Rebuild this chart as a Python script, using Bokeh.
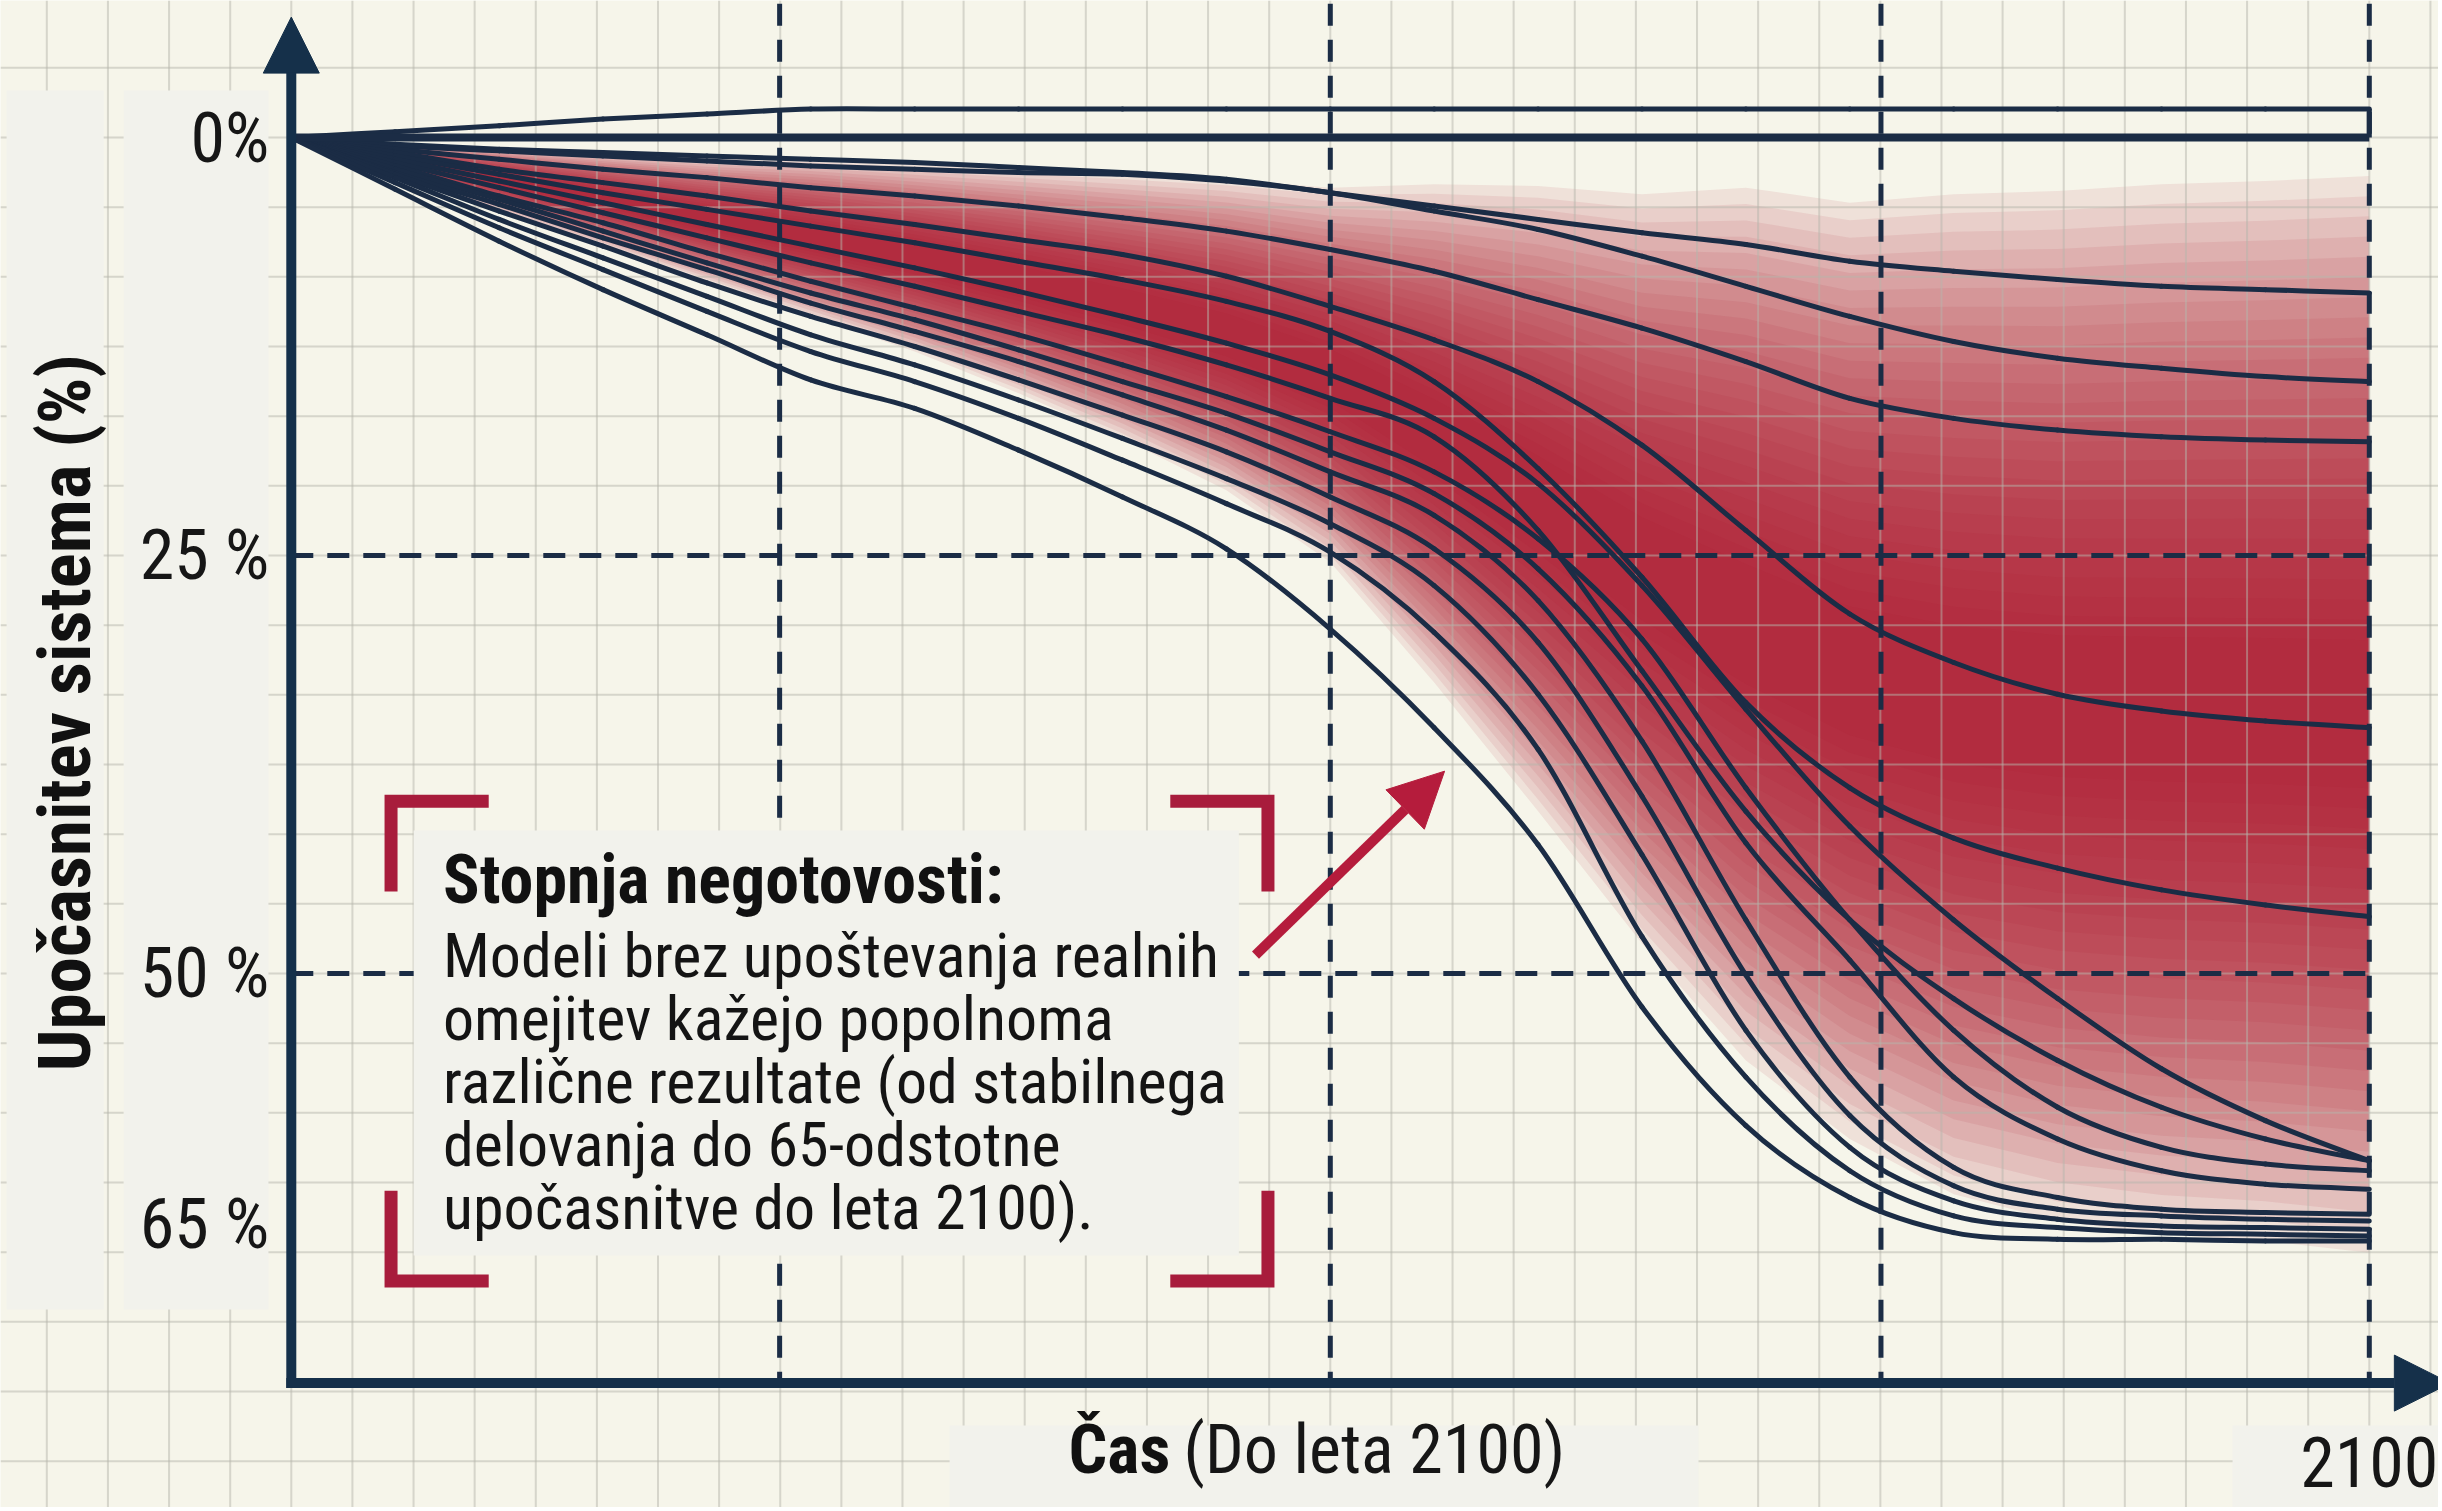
import math
from bokeh.plotting import figure
from bokeh.models import Range1d, LinearAxis, FixedTicker, Label, Arrow, NormalHead
from bokeh.embed import file_html
from bokeh.resources import INLINE

# ---------------- data ----------------
years = [2000, 2005, 2010, 2015, 2020, 2025, 2030, 2035, 2040, 2045, 2050,
         2055, 2060, 2065, 2070, 2075, 2080, 2085, 2090, 2095, 2100]

# slowdown of the system in % (0 = no slowdown), one list per model run
s_upper = [0, -0.35, -0.7, -1.1, -1.4, -1.7, -1.7, -1.7, -1.7, -1.7, -1.7,
           -1.7, -1.7, -1.7, -1.7, -1.7, -1.7, -1.7, -1.7, -1.7, -1.7]
s_zero = [0, 0, 0, 0, 0, 0, 0, 0, 0, 0, 0, 0, 0, 0, 0, 0, 0, 0, 0, 0, 0]
s_a = [0, 0.4, 0.7, 0.9, 1.1, 1.3, 1.5, 1.8, 2.1, 2.5, 3.3, 4.1, 4.9, 5.7, 6.4, 7.4, 8.0, 8.5, 8.9, 9.1, 9.3]
s_b = [0, 0.5, 0.8, 1.1, 1.4, 1.7, 1.9, 2.1, 2.2, 2.6, 3.3, 4.4, 5.5, 7.1, 8.9, 10.7, 12.2, 13.2, 13.8, 14.3, 14.6]
s_c = [0, 0.7, 1.3, 1.9, 2.4, 3.0, 3.5, 4.1, 4.8, 5.6, 6.7, 8.0, 9.7, 11.4, 13.4, 15.6, 16.8, 17.5, 17.9, 18.1, 18.2]
s_d = [0, 0.9, 1.9, 2.7, 3.5, 4.4, 5.2, 6.1, 7.0, 8.3, 10.1, 12.1, 14.6, 18.4, 23.5, 28.5, 31.4, 33.3, 34.3, 34.9, 35.3]
s_e = [0, 1.1, 2.2, 3.3, 4.3, 5.3, 6.3, 7.4, 8.5, 9.8, 11.6, 14.6, 19.8, 26.3, 33.8, 38.9, 41.9, 43.7, 45.0, 45.9, 46.6]
s_p2 = [0, 1.3, 2.6, 3.9, 5.2, 6.5, 7.8, 9.2, 10.7, 12.3, 14.2, 16.8, 20.7, 26.8, 34.2, 41.2, 46.8, 51.5, 55.7, 58.8, 61.2]
s_p1 = [0, 1.5, 3.0, 4.5, 6.0, 7.5, 8.9, 10.4, 11.9, 13.6, 15.6, 17.9, 23.5, 31.9, 40.3, 46.8, 51.5, 55.2, 58.0, 59.9, 61.2]
s_q1 = [0, 1.7, 3.5, 5.1, 6.9, 8.6, 10.2, 11.8, 13.6, 15.5, 17.6, 20.0, 24.0, 30.0, 38.9, 46.8, 53.4, 58.0, 60.4, 61.4, 61.8]
s_q2 = [0, 1.9, 3.7, 5.6, 7.5, 9.3, 10.9, 12.7, 14.6, 16.5, 18.8, 21.3, 25.8, 32.8, 42.2, 49.2, 56.2, 59.9, 61.8, 62.6, 62.9]
s_l5 = [0, 2.1, 4.0, 6.0, 7.9, 9.9, 11.6, 13.4, 15.4, 17.5, 20.0, 22.6, 27.7, 36.1, 46.8, 56.2, 61.6, 63.4, 64.1, 64.3, 64.4]
s_l4 = [0, 2.2, 4.4, 6.5, 8.7, 10.7, 12.5, 14.5, 16.6, 18.8, 21.5, 24.6, 30.2, 39.4, 50.1, 58.5, 62.7, 64.1, 64.5, 64.7, 64.8]
s_l3 = [0, 2.4, 4.9, 7.2, 9.5, 11.8, 13.6, 15.7, 18.0, 20.4, 23.1, 26.8, 33.3, 42.9, 53.4, 60.4, 63.6, 64.7, 65.1, 65.2, 65.3]
s_l2 = [0, 2.7, 5.4, 7.9, 10.4, 12.8, 14.6, 16.8, 19.3, 21.9, 24.8, 29.6, 36.6, 47.8, 56.2, 61.8, 64.5, 65.2, 65.5, 65.6, 65.7]
s_low = [0, 3.1, 6.2, 9.1, 11.8, 14.5, 16.2, 18.7, 21.5, 24.6, 29.4, 35.3, 42.3, 52.0, 59.1, 63.4, 65.5, 65.9, 65.9, 66.0, 66.0]

# uncertainty band: centre and half-width (in %)
band_center = [0, 1.3, 2.5, 3.7, 4.9, 6.0, 7.2, 8.6, 10.1, 11.8, 14.2,
               17.7, 21.6, 25.8, 29.1, 31.9, 33.3, 34.0, 34.2, 34.3, 34.5]
band_half = [0, 0.9, 1.9, 2.8, 3.7, 4.7, 5.6, 6.7, 7.9, 9.3, 11.2,
             14.9, 18.7, 22.4, 26.1, 28.0, 29.9, 30.8, 31.4, 31.7, 32.2]

y_ticks = [0, 25, 50, 65]
y_tick_labels = ["0%", "25 %", "50 %", "65 %"]
x_ticks = [2100]
x_tick_labels = ["2100"]
ref_years = [2023.5, 2050, 2076.5, 2100]
ref_levels = [25, 50]

y_title = "Upočasnitev sistema (%)"
x_title_bold = "Čas"
x_title_rest = "(Do leta 2100)"
ann_title = "Stopnja negotovosti:"
ann_lines = ["Modeli brez upoštevanja realnih",
             "omejitev kažejo popolnoma",
             "različne rezultate (od stabilnega",
             "delovanja do 65-odstotne",
             "upočasnitve do leta 2100)."]

# ---------------- style ----------------
BG = "#f6f5ea"
PANEL = "#f2f2ec"
NAVY = "#15304a"
LINE = "#1b2c45"
RED = "#b3152f"
CRIMSON = "#a81c3c"
GRID = "#b5b5ab"
FONT = "Roboto Condensed"

W, H = 2438, 1507
X0, X1 = 1986.006, 2103.33
Y_TOP, Y_BOT = -8.194, 81.94
X_AXIS_AT = 74.5

p = figure(width=W, height=H, x_range=Range1d(X0, X1), y_range=Range1d(Y_BOT, Y_TOP),
           x_axis_type=None, y_axis_type=None, toolbar_location=None,
           output_backend="svg", min_border=0,
           background_fill_color=BG, border_fill_color=BG, outline_line_color=None)

# uncertainty band (soft, layered)
n_layers = 24
for k in range(n_layers):
    s = 1.0 - 0.9 * k / n_layers
    lo = [c - h * s for c, h in zip(band_center, band_half)]
    hi = [c + h * s for c, h in zip(band_center, band_half)]
    p.varea(x=years, y1=lo, y2=hi, fill_color=RED, fill_alpha=0.085)

# background grid (drawn over the band, semi-transparent)
gstep_x = 50 / 17
gstep_y = 25 / 6
gx = [2000 + k * gstep_x for k in range(math.ceil((X0 - 2000) / gstep_x), int((X1 - 2000) / gstep_x) + 1)]
gy = [k * gstep_y for k in range(math.ceil(Y_TOP / gstep_y), int(Y_BOT / gstep_y) + 1)]
p.segment(x0=gx, x1=gx, y0=[Y_TOP] * len(gx), y1=[Y_BOT] * len(gx),
          line_color=GRID, line_alpha=0.5, line_width=2)
p.segment(x0=[X0] * len(gy), x1=[X1] * len(gy), y0=gy, y1=gy,
          line_color=GRID, line_alpha=0.5, line_width=2)

# dashed reference lines
p.segment(x0=ref_years, x1=ref_years, y0=[-8.0] * len(ref_years), y1=[X_AXIS_AT] * len(ref_years),
          line_color=LINE, line_width=5, line_dash="22 14")
p.segment(x0=[2000] * len(ref_levels), x1=[2100] * len(ref_levels), y0=ref_levels, y1=ref_levels,
          line_color=LINE, line_width=5, line_dash="22 14")

# light panels behind texts
p.quad(left=[1986.3, 1991.93, 2031.68, 2093.42, 2005.89],
       right=[1990.97, 1998.90, 2067.72, X1, 2045.60],
       top=[-2.81, -2.81, 77.03, 77.03, 41.45],
       bottom=[70.1, 70.1, Y_BOT, Y_BOT, 66.87],
       fill_color=PANEL, line_color=None)


# model runs, drawn as smooth curves through the values
def smooth(xs, ys):
    n = len(xs)
    seg = dict(x0=[], y0=[], x1=[], y1=[], cx0=[], cy0=[], cx1=[], cy1=[])
    for i in range(n - 1):
        im, ip = max(i - 1, 0), min(i + 2, n - 1)
        seg["x0"].append(xs[i]); seg["y0"].append(ys[i])
        seg["x1"].append(xs[i + 1]); seg["y1"].append(ys[i + 1])
        seg["cx0"].append(xs[i] + (xs[i + 1] - xs[im]) / 6)
        seg["cy0"].append(ys[i] + (ys[i + 1] - ys[im]) / 6)
        seg["cx1"].append(xs[i + 1] - (xs[ip] - xs[i]) / 6)
        seg["cy1"].append(ys[i + 1] - (ys[ip] - ys[i]) / 6)
    return seg


curves = [s_a, s_b, s_c, s_d, s_e, s_p2, s_p1, s_q1, s_q2, s_l5, s_l4, s_l3, s_l2, s_low, s_upper]
for c in curves:
    p.bezier(**smooth(years, c), line_color=LINE, line_width=5, line_cap="round")
p.line(years, s_zero, line_color=LINE, line_width=8)
p.segment(x0=[years[-1]], x1=[years[-1]], y0=[s_upper[-1]], y1=[s_zero[-1]],
          line_color=LINE, line_width=5)

# axes (tick labels) at fixed positions
yax = LinearAxis(fixed_location=2000, ticker=FixedTicker(ticks=y_ticks),
                 major_label_overrides=dict(zip(y_ticks, y_tick_labels)),
                 axis_line_color=None, major_tick_line_color=None, minor_tick_line_color=None,
                 major_tick_in=0, major_tick_out=0, major_label_standoff=22,
                 major_label_text_font=FONT, major_label_text_font_size="70px",
                 major_label_text_color="#161616")
p.add_layout(yax, "left")
xax = LinearAxis(fixed_location=X_AXIS_AT, ticker=FixedTicker(ticks=x_ticks),
                 major_label_overrides=dict(zip(x_ticks, x_tick_labels)),
                 axis_line_color=None, major_tick_line_color=None, minor_tick_line_color=None,
                 major_tick_in=0, major_tick_out=0, major_label_standoff=54,
                 major_label_text_font=FONT, major_label_text_font_size="70px",
                 major_label_text_color="#161616")
p.add_layout(xax, "below")

# axis arrows
p.add_layout(Arrow(end=NormalHead(size=56, fill_color=NAVY, line_color=NAVY),
                   x_start=2000, y_start=X_AXIS_AT + 0.3, x_end=2000, y_end=-7.2,
                   line_color=NAVY, line_width=10))
p.add_layout(Arrow(end=NormalHead(size=56, fill_color=NAVY, line_color=NAVY),
                   x_start=1999.76, y_start=X_AXIS_AT, x_end=2103.9, y_end=X_AXIS_AT,
                   line_color=NAVY, line_width=10))

# red corner brackets around the note
bx0, bx1, by0, by1 = 2004.8, 2047.0, 39.7, 68.4
ax_, ay_ = 4.7, 5.4
br_x = [[bx0 + ax_, bx0, bx0], [bx1 - ax_, bx1, bx1], [bx0, bx0, bx0 + ax_], [bx1, bx1, bx1 - ax_]]
br_y = [[by0, by0, by0 + ay_], [by0, by0, by0 + ay_], [by1 - ay_, by1, by1], [by1 - ay_, by1, by1]]
p.multi_line(xs=br_x, ys=br_y, line_color=CRIMSON, line_width=13, line_join="miter", line_cap="butt")

# red arrow pointing to the runs
p.add_layout(Arrow(end=NormalHead(size=55, fill_color="#b51c3c", line_color="#b51c3c"),
                   x_start=2046.4, y_start=48.9, x_end=2055.5, y_end=37.9,
                   line_color="#b51c3c", line_width=10))

# texts
p.add_layout(Label(x=2007.3, y=44.4, text=ann_title, text_font=FONT,
                   text_font_style="bold", text_font_size="68px", text_color="#111111",
                   text_baseline="alphabetic", text_align="left"))
for i, t in enumerate(ann_lines):
    p.add_layout(Label(x=2007.3, y=48.9 + i * 3.77, text=t, text_font=FONT,
                       text_font_size="62px", text_color="#141414",
                       text_baseline="alphabetic", text_align="left"))

p.add_layout(Label(x=1989.09, y=34.4, text=y_title, text_font=FONT,
                   text_font_style="bold", text_font_size="73px", text_color="#111111",
                   angle=math.pi / 2, text_align="center", text_baseline="middle"))
p.add_layout(Label(x=2042.3, y=78.5, text=x_title_bold, text_font=FONT,
                   text_font_style="bold", text_font_size="68px", text_color="#111111",
                   text_align="right", text_baseline="alphabetic"))
p.add_layout(Label(x=2042.94, y=78.5, text=x_title_rest, text_font=FONT,
                   text_font_size="68px", text_color="#161616",
                   text_align="left", text_baseline="alphabetic"))

open("out.html", "w").write(file_html(p, INLINE))
